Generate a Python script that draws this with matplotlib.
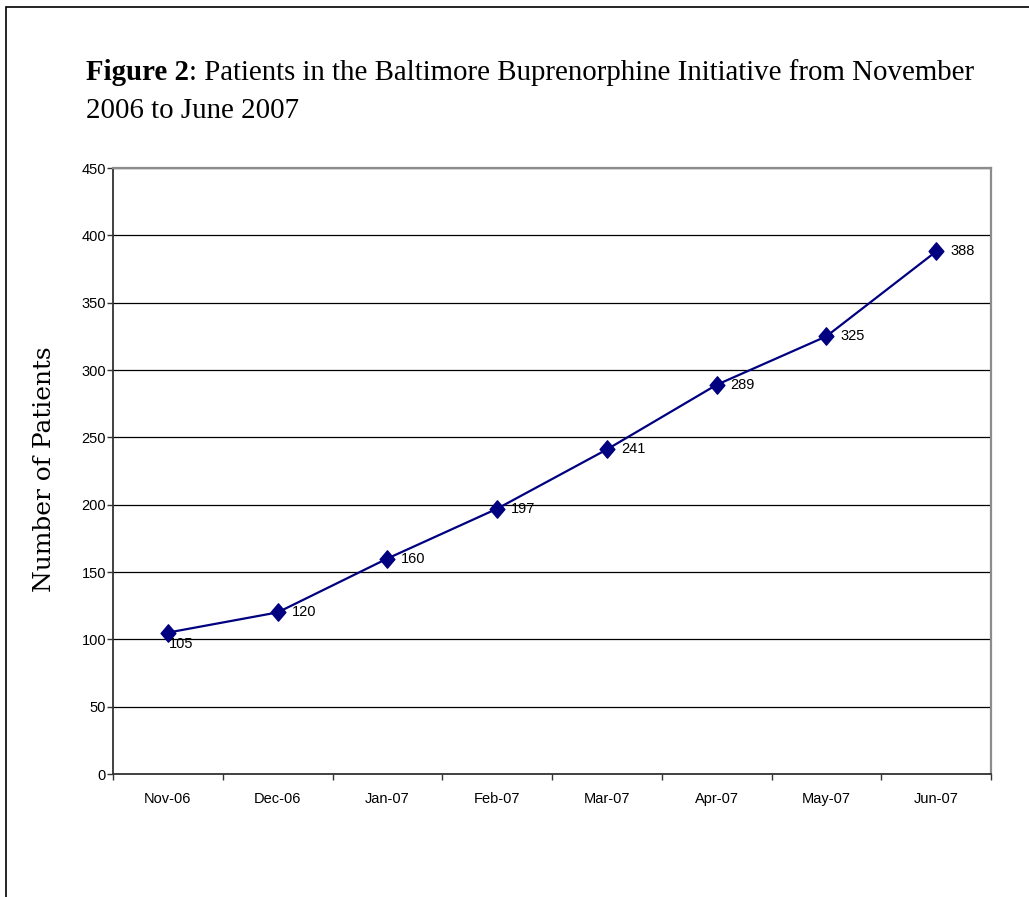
import numpy as np
import matplotlib
matplotlib.use('Agg')
import matplotlib.pyplot as plt
from matplotlib.patches import Rectangle
from matplotlib.path import Path

# data
months = ['Nov-06', 'Dec-06', 'Jan-07', 'Feb-07', 'Mar-07', 'Apr-07', 'May-07', 'Jun-07']
patients = [105, 120, 160, 197, 241, 289, 325, 388]
y_ticks = [0, 50, 100, 150, 200, 250, 300, 350, 400, 450]

title_bold = 'Figure 2'
title_rest = ': Patients in the Baltimore Buprenorphine Initiative from November'
title_line2 = '2006 to June 2007'
y_label = 'Number of Patients'

W, H = 1029, 897
fig = plt.figure(figsize=(W / 100, H / 100), dpi=100)
renderer = fig.canvas.get_renderer()

# outer frame of the document figure (runs off right/bottom edges)
fig.patches.append(Rectangle((6 / W, -0.1), 1.2, 1 - 7 / H + 0.1,
                             transform=fig.transFigure, fill=False,
                             lw=1.2, ec='black'))

ax = fig.add_axes([113 / W, 1 - 774 / H, 878 / W, 606 / H])

x = np.arange(len(months))
diamond = Path([(0, 1), (0.85, 0), (0, -1), (-0.85, 0), (0, 1)],
               [Path.MOVETO, Path.LINETO, Path.LINETO, Path.LINETO, Path.CLOSEPOLY])
ax.plot(x, patients, color='#000080', lw=1.6, marker=diamond,
        markersize=12.5, markerfacecolor='#000080', markeredgecolor='#000080',
        zorder=3)

tick_font = dict(family='Liberation Sans', size=10.5)
for i, v in enumerate(patients):
    if i == 0:
        off = (1, -8)
    else:
        off = (10, 0)
    ax.annotate(str(v), (i, v), xytext=off, textcoords='offset points',
                ha='left', va='center', **tick_font)

ax.set_xlim(-0.5, len(months) - 0.5)
ax.set_ylim(0, 450)
ax.set_yticks(y_ticks)
ax.set_xticks(x)
ax.set_xticklabels(months)
ax.set_xticks(np.arange(len(months) + 1) - 0.5, minor=True)
ax.tick_params(axis='x', which='major', length=0, pad=13)
ax.tick_params(axis='x', which='minor', length=4, width=1, direction='out', color='#333333')
ax.tick_params(axis='y', length=4, width=1, direction='out', pad=1, color='#333333')
for lab in ax.get_xticklabels() + ax.get_yticklabels():
    lab.set_fontfamily('Liberation Sans')
    lab.set_fontsize(10.5)

ax.yaxis.grid(True, color='black', lw=0.9)
ax.set_axisbelow(True)
for s in ['left', 'bottom']:
    ax.spines[s].set_color('#333333')
    ax.spines[s].set_linewidth(1.3)
for s in ['top', 'right']:
    ax.spines[s].set_color('#8c8c8c')
    ax.spines[s].set_linewidth(1.6)

# y label, fitted to its length in the reference
yl = fig.text(45 / W, 1 - 469 / H, y_label, rotation=90, ha='center', va='center',
              family='DejaVu Serif', fontsize=16)
h = yl.get_window_extent(renderer).height
yl.set_fontsize(16 * 246 / h)

# title: bold lead-in plus regular text, fitted to the reference width
x0 = 86 / W
fs = 20
t1 = fig.text(x0, 1 - 80 / H, title_bold, fontsize=fs, weight='bold',
              family='Liberation Serif', va='baseline')
w1 = t1.get_window_extent(renderer).width
t2 = fig.text(x0 + w1 / W, 1 - 80 / H, title_rest, fontsize=fs,
              family='Liberation Serif', va='baseline')
w2 = t2.get_window_extent(renderer).width
fs2 = fs * 892 / (w1 + w2)
t1.set_fontsize(fs2)
t2.set_fontsize(fs2)
w1 = t1.get_window_extent(renderer).width
t2.set_x(x0 + w1 / W)
fig.text(x0, 1 - 118 / H, title_line2, fontsize=fs2,
         family='Liberation Serif', va='baseline')

fig.savefig('out.png', dpi=100)
